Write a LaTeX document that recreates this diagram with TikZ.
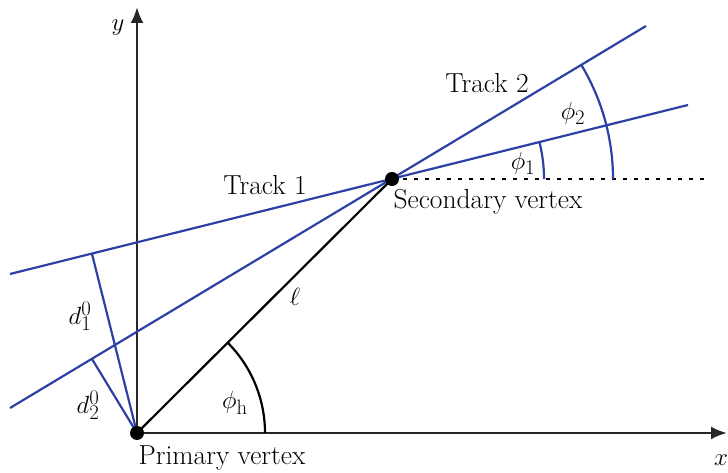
\documentclass[tikz,border=0pt]{standalone}
\usetikzlibrary{arrows.meta}
\definecolor{trk}{RGB}{45,65,165}
\begin{document}
\begin{tikzpicture}[x=1pt,y=1pt,
  lbl/.style={font=\fontsize{27.5pt}{33pt}\selectfont, inner sep=0pt},
  trkline/.style={draw=trk, line width=2.2pt},
  axis/.style={draw=black!85, line width=2.6pt, -{Latex[length=16pt,width=13pt]}},
  vtx/.style={circle, fill=black, inner sep=0pt, minimum size=14pt}]
\useasboundingbox (0,0) rectangle (728,473);
% coordinates
\coordinate (o) at (137,40);
\coordinate (ytop) at (137,466);
\coordinate (xend) at (727,40);
\coordinate (t1a) at (10,199);
\coordinate (t1b) at (688,368);
\coordinate (t2a) at (10,65);
\coordinate (t2b) at (646,447);
\coordinate (f1) at (92,219);
\coordinate (f2) at (92,114);
\coordinate (dotend) at (707,294);
\coordinate (sv) at (392,294);
% axes
\draw[axis] (o) -- (ytop);
\draw[axis] (o) -- (xend);
% tracks
\draw[trkline] (t1a) -- (t1b);
\draw[trkline] (t2a) -- (t2b);
\draw[trkline] (o) -- (f1);
\draw[trkline] (o) -- (f2);
% flight line
\draw[line width=2.2pt] (o) -- (sv);
% dotted
\draw[line width=1.8pt, dash pattern=on 4pt off 7pt] (sv) -- (dotend);
% arcs
\draw[line width=2.2pt] ([shift={(0:128pt)}]o) arc[start angle=0, end angle=45, radius=128pt];
\draw[trkline] ([shift={(0:152pt)}]sv) arc[start angle=0, end angle=14, radius=152pt];
\draw[trkline] ([shift={(0:221pt)}]sv) arc[start angle=0, end angle=31, radius=221pt];
% vertices
\node[vtx] (pv) at (o) {};
\node[vtx] (svn) at (sv) {};
% labels
\node[lbl] (ly) at (118,445) {$y$};
\node[lbl] (lx) at (721,13) {$x$};
\node[lbl] (ltr1) at (265,288) {Track 1};
\node[lbl] (ltr2) at (487,390) {Track 2};
\node[lbl] (lp2) at (573,360) {$\phi_2$};
\node[lbl] (lp1) at (523,310) {$\phi_1$};
\node[lbl] (lsv) at (488,271) {Secondary vertex};
\node[lbl] (lpv) at (222,15) {Primary vertex};
\node[lbl] (lell) at (295,176) {$\ell$};
\node[lbl] (ld1) at (80,157) {$d_1^0$};
\node[lbl] (ld2) at (88,68) {$d_2^0$};
\node[lbl] (lph) at (235,70) {$\phi_{\mathrm{h}}$};
\end{tikzpicture}
\end{document}
